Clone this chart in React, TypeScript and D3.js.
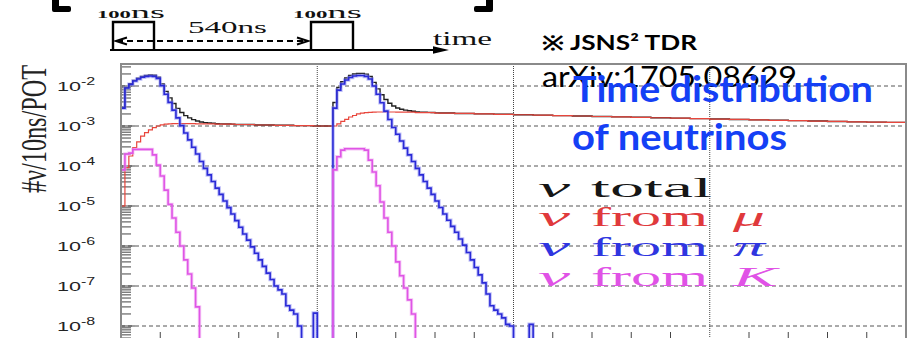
import React from 'react';
import * as d3 from 'd3';

const WIDTH = 913;
const HEIGHT = 338;
const T_MAX = 2000; // ns, end of the time axis
const BIN_NS = 10; // histogram bin width

// Bin contents, #ν per 10 ns per POT. Pulse arrays hold consecutive 10-ns bins.
// ν from π : first beam pulse (t = 0 ns) and second beam pulse (t = 540 ns)
const piPulse1 = [
  2.8e-3, 8.9e-3, 1.1e-2, 1.33e-2, 1.5e-2, 1.66e-2, 1.74e-2, 1.78e-2, 1.74e-2, 1.55e-2,
  1.02e-2, 6.2e-3, 3.9e-3, 2.5e-3, 1.6e-3, 1.02e-3, 6.7e-4, 4.5e-4, 2.95e-4, 2.0e-4,
  1.3e-4, 8.7e-5, 6.0e-5, 4.1e-5, 2.8e-5, 1.95e-5, 1.33e-5, 9.1e-6, 6.3e-6, 4.3e-6,
  2.95e-6, 2.0e-6, 1.4e-6, 9.5e-7, 6.6e-7, 4.5e-7, 3.1e-7, 2.1e-7, 1.45e-7, 1.0e-7,
  8e-8, 6.3e-8, 3.2e-8, 2.5e-8, 2.0e-8, 1.0e-8, 0, 0, 0, 2.1e-8,
];
const piPulse2 = [
  2.8e-3, 7.9e-3, 1.12e-2, 1.41e-2, 1.63e-2, 1.78e-2, 1.83e-2, 1.83e-2, 1.74e-2, 1.5e-2,
  1.0e-2, 6.2e-3, 3.8e-3, 2.35e-3, 1.45e-3, 9.2e-4, 6.2e-4, 4.2e-4, 2.8e-4, 1.9e-4,
  1.3e-4, 8.7e-5, 6.0e-5, 4.1e-5, 2.8e-5, 1.95e-5, 1.33e-5, 9.2e-6, 6.3e-6, 4.4e-6,
  3.1e-6, 2.2e-6, 1.5e-6, 1.05e-6, 6.9e-7, 4.5e-7, 2.9e-7, 1.9e-7, 1.2e-7, 6.3e-8,
  3.2e-8, 2.5e-8, 2.0e-8, 1.6e-8, 1.1e-8, 1.0e-8, 0, 0, 0, 0, 1.1e-8,
];

// ν from K
const kPulse1 = [
  8e-5, 2.0e-4, 2.1e-4, 2.6e-4, 2.6e-4, 2.6e-4, 2.6e-4, 2.6e-4, 1.9e-4, 1.05e-4,
  5.6e-5, 2.5e-5, 1.1e-5, 5.0e-6, 2.2e-6, 1.0e-6, 4.5e-7, 2.0e-7, 8.9e-8, 3e-8,
];
const kPulse2 = [
  8e-5, 1.7e-4, 2.5e-4, 2.7e-4, 2.7e-4, 2.7e-4, 2.7e-4, 2.7e-4, 2.5e-4, 1.4e-4,
  7.1e-5, 3.2e-5, 1.26e-5, 5e-6, 2.2e-6, 1e-6, 4e-7, 1.8e-7, 8.9e-8, 4.5e-8, 2e-8,
];

// ν from μ : 10-ns bins through each pulse, 50-ns bins over the slow muon-decay tails
const muPulse1 = [
  1e-5, 9.1e-5, 1.78e-4, 2.9e-4, 4.0e-4, 5.6e-4, 6.8e-4, 8.0e-4, 9.1e-4, 1.0e-3,
  1.07e-3, 1.11e-3, 1.13e-3, 1.15e-3,
];
const muBetween = [1.15e-3, 1.13e-3, 1.11e-3, 1.09e-3, 1.06e-3, 1.04e-3, 1.02e-3, 1.0e-3];
const muPulse2 = [
  1.0e-3, 1.13e-3, 1.3e-3, 1.47e-3, 1.68e-3, 1.83e-3, 2.0e-3, 2.09e-3, 2.16e-3, 2.2e-3, 2.23e-3,
];
const muTail = [
  2.24e-3, 2.21e-3, 2.16e-3, 2.11e-3, 2.06e-3, 2.01e-3, 1.96e-3, 1.91e-3, 1.87e-3, 1.82e-3,
  1.78e-3, 1.73e-3, 1.69e-3, 1.65e-3, 1.61e-3, 1.57e-3, 1.53e-3, 1.49e-3, 1.46e-3, 1.42e-3,
  1.39e-3, 1.36e-3, 1.33e-3, 1.30e-3, 1.27e-3, 1.25e-3, 1.23e-3,
];

const decadeExponents = [-2, -3, -4, -5, -6, -7, -8];
const timeGridLines = [500, 1000, 1500];
const timeMinorTicks = [100, 200, 300, 400, 600, 700, 800, 900, 1100, 1200, 1300, 1400, 1600, 1700, 1800, 1900];

const legendRows = [
  { word: 'total', symbol: '', color: '#161616' },
  { word: 'from', symbol: 'μ', color: '#e0393c' },
  { word: 'from', symbol: 'π', color: '#2f35e0' },
  { word: 'from', symbol: 'K', color: '#e052e6' },
];

type Run = { t0: number; dt: number; values: number[] };

const piRuns: Run[] = [
  { t0: 0, dt: BIN_NS, values: piPulse1 },
  { t0: 540, dt: BIN_NS, values: piPulse2 },
];
const kRuns: Run[] = [
  { t0: 0, dt: BIN_NS, values: kPulse1 },
  { t0: 540, dt: BIN_NS, values: kPulse2 },
];
const muRuns: Run[] = [
  { t0: 0, dt: BIN_NS, values: muPulse1 },
  { t0: 140, dt: 50, values: muBetween },
  { t0: 540, dt: BIN_NS, values: muPulse2 },
  { t0: 650, dt: 50, values: muTail },
];

// Lay runs onto the common 10-ns grid (empty bins stay at zero).
function toBins(runs: Run[]): number[] {
  const n = Math.round(T_MAX / BIN_NS);
  const out = new Array(n).fill(0);
  for (const r of runs) {
    r.values.forEach((v, i) => {
      const start = r.t0 + i * r.dt;
      for (let t = start; t < start + r.dt && t < T_MAX; t += BIN_NS) {
        out[Math.round(t / BIN_NS)] = v;
      }
    });
  }
  return out;
}

export default function App() {
  const left = 121;
  const right = 906;
  const top = 64;
  const bottom = 344;

  const x = d3.scaleLinear().domain([0, T_MAX]).range([left, right]);
  const y = d3.scaleLog().domain([10 ** -8.45, 10 ** -1.45]).range([bottom, top]).clamp(true);

  const mu = toBins(muRuns);
  const pi = toBins(piRuns);
  const ka = toBins(kRuns);
  const total = mu.map((v, i) => v + pi[i] + ka[i]);

  const stepPath = (bins: number[]) => {
    const pts: [number, number][] = bins.map((v, i) => [i * BIN_NS, v]);
    pts.push([T_MAX, bins[bins.length - 1]]);
    return d3
      .line<[number, number]>()
      .x((d) => x(d[0]))
      .y((d) => y(Math.max(d[1], 1e-12)))
      .curve(d3.curveStepAfter)(pts) as string;
  };

  // log minor ticks on the y axis
  const yTicks: { v: number; major: boolean }[] = [];
  for (let e = -9; e <= -1; e++) {
    for (let m = 1; m <= 9; m++) {
      const v = m * 10 ** e;
      if (v >= 10 ** -8.45 && v <= 10 ** -1.45) yTicks.push({ v, major: m === 1 });
    }
  }

  const serif = '"Liberation Serif", "DejaVu Serif", serif';
  const sans = '"Liberation Sans", Arial, sans-serif';

  return (
    <svg
      width={WIDTH}
      height={HEIGHT}
      viewBox={`0 0 ${WIDTH} ${HEIGHT}`}
      style={{ position: 'absolute', left: 0, top: 0, background: '#fff' }}
    >
      <defs>
        <clipPath id="plotArea">
          <rect x={left} y={top} width={right - left} height={bottom - top} />
        </clipPath>
      </defs>
      <rect x={0} y={0} width={WIDTH} height={HEIGHT} fill="#fff" />

      {/* beam-pulse schematic */}
      <g stroke="#000" fill="none">
        <path d="M52,0 L59,0 L59,6 L69,6 Q71,6 71,8 L71,10 Q71,12 69,12 L54,12 Q52,12 52,10 Z" fill="#000" stroke="none" />
        <path d="M493,0 L486,0 L486,6 L476,6 Q474,6 474,8 L474,10 Q474,12 476,12 L491,12 Q493,12 493,10 Z" fill="#000" stroke="none" />
        <line x1={110} y1={50} x2={440} y2={50} strokeWidth={2.2} />
        <path d="M433,46.2 L449,50 L433,53.8 Z" fill="#000" stroke="none" />
        <polyline points="113,50 113,22 154,22 154,50" strokeWidth={2.4} />
        <polyline points="311,50 311,22 353,22 353,50" strokeWidth={2.4} />
        <line x1={117} y1={41} x2={307} y2={41} strokeWidth={2} strokeDasharray="6,4" />
        <polyline points="127,37.5 116,41 127,44.5" strokeWidth={2} />
        <polyline points="297,37.5 308,41 297,44.5" strokeWidth={2} />
      </g>
      <g fontFamily={serif} fill="#111">
        <text x={97} y={18} textLength={68} lengthAdjust="spacingAndGlyphs">
          <tspan fontWeight="bold" fontSize={10}>100</tspan>
          <tspan fontSize={17}>ns</tspan>
        </text>
        <text x={293} y={18} textLength={69} lengthAdjust="spacingAndGlyphs">
          <tspan fontWeight="bold" fontSize={10}>100</tspan>
          <tspan fontSize={17}>ns</tspan>
        </text>
        <text x={188} y={33} fontSize={16} textLength={79} lengthAdjust="spacingAndGlyphs">540ns</text>
        <text x={433} y={45} fontSize={18} textLength={59} lengthAdjust="spacingAndGlyphs">time</text>
      </g>

      {/* grid */}
      <g>
        {decadeExponents.map((e) => (
          <line
            key={`g${e}`}
            x1={left}
            x2={right}
            y1={y(10 ** e)}
            y2={y(10 ** e)}
            stroke="#555"
            strokeWidth={1}
            strokeDasharray="4,3"
          />
        ))}
        {timeGridLines.map((t) => (
          <line
            key={`v${t}`}
            x1={x(t)}
            x2={x(t)}
            y1={top}
            y2={bottom}
            stroke="#444"
            strokeWidth={1}
            strokeDasharray="1,1"
          />
        ))}
      </g>

      {/* axis ticks */}
      <g stroke="#444" strokeWidth={1}>
        {yTicks.map((t, i) => (
          <line key={i} x1={left} x2={left + (t.major ? 14 : 10)} y1={y(t.v)} y2={y(t.v)} />
        ))}
        {timeMinorTicks.map((t) => (
          <line key={t} x1={x(t)} x2={x(t)} y1={bottom} y2={bottom - 12} />
        ))}
      </g>

      {/* histograms */}
      <g clipPath="url(#plotArea)" fill="none" strokeLinejoin="miter">
        <path d={stepPath(total)} stroke="#202020" strokeWidth={1.4} />
        <path d={stepPath(mu)} stroke="#e8463c" strokeWidth={1.2} />
        <path d={stepPath(pi)} stroke="#8e8ef2" strokeWidth={3.6} strokeOpacity={0.55} />
        <path d={stepPath(pi)} stroke="#2a2ad6" strokeWidth={1.6} />
        <path d={stepPath(ka)} stroke="#f0a4f0" strokeWidth={3.4} strokeOpacity={0.6} />
        <path d={stepPath(ka)} stroke="#df55e6" strokeWidth={1.6} />
      </g>

      {/* frame */}
      <rect x={left} y={top} width={right - left} height={bottom - top} fill="none" stroke="#8a8a8a" strokeWidth={2} />

      {/* y tick labels */}
      <g fontFamily={sans} fill="#222">
        {decadeExponents.map((e) => (
          <g key={`l${e}`} transform={`translate(57,${y(10 ** e) + 5}) scale(1.6,1)`}>
            <text x={0} y={0} fontSize={13.5}>
              10
              <tspan dy={-6.5} fontSize={10}>{`-${-e}`}</tspan>
            </text>
          </g>
        ))}
      </g>

      {/* y title */}
      <g transform="translate(34,129) scale(1.6,1) rotate(-90)">
        <text
          x={0}
          y={0}
          textAnchor="middle"
          dominantBaseline="central"
          fontFamily={serif}
          fontSize={22}
          fill="#222"
          textLength={128}
          lengthAdjust="spacingAndGlyphs"
        >
          #ν/10ns/POT
        </text>
      </g>

      {/* legend */}
      <g fontFamily={serif} fontSize={27}>
        {legendRows.map((r, i) => {
          const base = 196.5 + i * 29.7;
          return (
            <g key={i} fill={r.color}>
              <text x={538} y={base} fontStyle="italic" textLength={32} lengthAdjust="spacingAndGlyphs">ν</text>
              <text x={591} y={base} textLength={r.word === 'total' ? 121 : 117} lengthAdjust="spacingAndGlyphs">
                {r.word}
              </text>
              {r.symbol && (
                <text
                  x={733}
                  y={base}
                  fontStyle="italic"
                  textLength={r.symbol === 'K' ? 44 : 32}
                  lengthAdjust="spacingAndGlyphs"
                >
                  {r.symbol}
                </text>
              )}
            </g>
          );
        })}
      </g>

      {/* annotations */}
      <g fontFamily='Lato, "Open Sans", sans-serif'>
        <text x={542} y={50} fontSize={20} fontWeight="bold" fill="#000" textLength={155} lengthAdjust="spacingAndGlyphs">
          ※ JSNS² TDR
        </text>
        <text x={542} y={87} fontSize={28} fill="#000" textLength={255} lengthAdjust="spacingAndGlyphs">
          arXiv:1705.08629
        </text>
        <text x={573} y={102} fontSize={36} fontWeight="bold" fill="#1440f5" textLength={300} lengthAdjust="spacingAndGlyphs">
          Time distribution
        </text>
        <text x={572} y={150} fontSize={36} fontWeight="bold" fill="#1440f5" textLength={215} lengthAdjust="spacingAndGlyphs">
          of neutrinos
        </text>
      </g>
    </svg>
  );
}
